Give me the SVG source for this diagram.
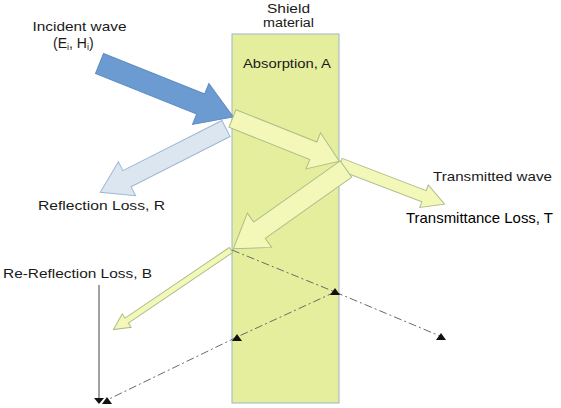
<svg xmlns="http://www.w3.org/2000/svg" width="561" height="408" viewBox="0 0 561 408">
<style>
text{font-family:"Liberation Sans",Arial,sans-serif;font-size:13.5px;fill:#1a1a1a}
.yel{fill:#f3f8b8;stroke:#aebd8a;stroke-width:1}
.dash{stroke:#6a6a6a;stroke-width:1;stroke-dasharray:8,3,2,3;fill:none}
.tri{fill:#111}
</style>
<rect width="561" height="408" fill="#fff"/>
<g id="shield">
<rect x="232" y="34" width="107" height="369" fill="#e5ee9c" stroke="#9fb4c4" stroke-width="1"/>
<text x="288.5" y="13" text-anchor="middle" style="font-size:12.5px" textLength="43" lengthAdjust="spacingAndGlyphs">Shield</text>
<text x="288.5" y="27" text-anchor="middle" style="font-size:12.5px" textLength="51" lengthAdjust="spacingAndGlyphs">material</text>
<text x="243" y="68" textLength="88" lengthAdjust="spacingAndGlyphs">Absorption, A</text>
</g>
<g id="incident">
<polygon transform="translate(99.5,63.5) rotate(21.8)" points="0,-10.7 109,-10.7 109,-22 144,0 109,22 109,10.7 0,10.7" fill="#6b9bd0" stroke="#5d8cc3" stroke-width="1"/>
<text x="32.5" y="31" textLength="94" lengthAdjust="spacingAndGlyphs">Incident wave</text>
<text x="53" y="48" style="font-size:14px">(E<tspan font-size="9" dy="2">i</tspan><tspan dy="-2">, H</tspan><tspan font-size="9" dy="2">i</tspan><tspan dy="-2">)</tspan></text>
</g>
<g id="reflection">
<polygon transform="translate(226,128.5) rotate(153.1)" points="0,-9 111,-9 111,-19 141,0 111,19 111,9 0,9" fill="#dce6f1" stroke="#9fb6d2" stroke-width="1"/>
<text x="38" y="210" textLength="127" lengthAdjust="spacingAndGlyphs">Reflection Loss, R</text>
</g>
<g id="transmission-inner">
<polygon class="yel" transform="translate(232.5,118.5) rotate(21.8)" points="0,-9.5 87,-9.5 87,-19.5 115,0 87,19.5 87,9.5 0,9.5"/>
</g>
<g id="transmitted">
<polygon class="yel" transform="translate(340,164) rotate(21)" points="0,-6 90,-6 90,-12 112,0 90,12 90,6 0,6"/>
<text x="433" y="181" textLength="119" lengthAdjust="spacingAndGlyphs">Transmitted wave</text>
<text x="406" y="223" style="font-size:14.5px;fill:#000" textLength="147" lengthAdjust="spacingAndGlyphs">Transmittance Loss, T</text>
</g>
<g id="re-reflection-inner">
<polygon class="yel" transform="translate(346,169) rotate(144.7)" points="0,-10 106,-10 106,-21 138,0 106,21 106,10 0,10"/>
</g>
<g id="re-reflection-outer">
<polygon class="yel" transform="translate(231,250) rotate(145.9)" points="0,-3 126,-3 126,-8 142,0 126,8 126,3 0,3"/>
<text x="3" y="278" textLength="149" lengthAdjust="spacingAndGlyphs">Re-Reflection Loss, B</text>
</g>
<g id="connectors">
<path class="dash" d="M232,250 L335,292"/>
<path class="dash" d="M335,292 L440,336"/>
<path class="dash" d="M335,292 L237,337"/>
<path class="dash" d="M237,337 L107,400"/>
<line x1="99" y1="285" x2="99" y2="398" stroke="#444" stroke-width="1"/>
<polygon class="tri" points="335,288 330,295 340,295"/>
<polygon class="tri" points="441,333 436,340 446,340"/>
<polygon class="tri" points="237,334 232,341 242,341"/>
<polygon class="tri" points="107,397 102,404 112,404"/>
<polygon class="tri" points="94,398 104,398 99,404"/>
</g>
</svg>
